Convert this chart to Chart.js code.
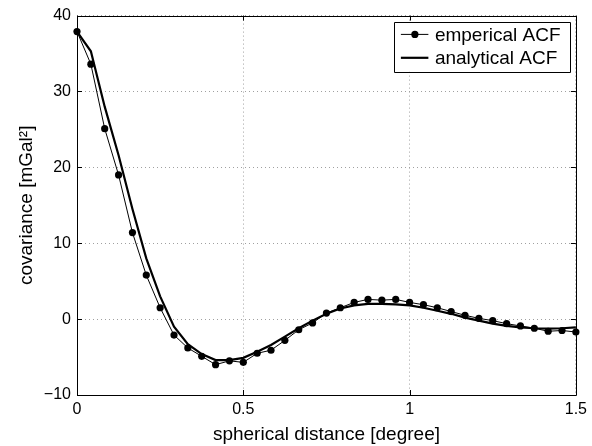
<!DOCTYPE html>
<html><head><meta charset="utf-8">
<script src="https://cdn.jsdelivr.net/npm/chart.js@4/dist/chart.umd.min.js"></script>
<style>html,body{margin:0;padding:0;background:#fff;} #wrap{width:592px;height:446px;}</style>
</head><body><div id="wrap"><canvas id="c" width="592" height="446"></canvas></div>
<script>
// spherical distance [degree]
const distances = [0, 0.0417, 0.0833, 0.125, 0.1667, 0.2083, 0.25, 0.2917, 0.3333, 0.375,
  0.4167, 0.4583, 0.5, 0.5417, 0.5833, 0.625, 0.6667, 0.7083, 0.75, 0.7917,
  0.8333, 0.875, 0.9167, 0.9583, 1, 1.0417, 1.0833, 1.125, 1.1667, 1.2083,
  1.25, 1.2917, 1.3333, 1.375, 1.4167, 1.4583, 1.5];
// emperical ACF [mGal^2]
const empirical = [37.9, 33.6, 25.1, 19.0, 11.4, 5.8, 1.5, -2.1, -3.8, -4.9,
  -6.0, -5.5, -5.7, -4.5, -4.1, -2.8, -1.4, -0.5, 0.8, 1.5,
  2.2, 2.6, 2.5, 2.6, 2.2, 1.9, 1.5, 1.0, 0.5, 0.1,
  -0.2, -0.6, -0.9, -1.2, -1.6, -1.5, -1.7];
// analytical ACF [mGal^2]
const analytical = [37.9, 35.3, 28.0, 21.6, 14.5, 8.0, 3.0, -1.0, -3.3, -4.6,
  -5.4, -5.4, -5.1, -4.3, -3.4, -2.3, -1.2, -0.2, 0.7, 1.4,
  1.8, 2.0, 2.0, 1.95, 1.8, 1.5, 1.1, 0.7, 0.2, -0.2,
  -0.6, -0.9, -1.1, -1.2, -1.25, -1.2, -1.1];
const xTicks = [0, 0.5, 1, 1.5];
const yTicks = [-10, 0, 10, 20, 30, 40];
const seriesLabels = ['emperical ACF', 'analytical ACF'];
const xTitle = 'spherical distance [degree]';
const yTitle = 'covariance [mGal\u00B2]';

const FONT = "'Liberation Sans', Arial, Helvetica, sans-serif";
const TICK_SIZE = 16;
const LABEL_SIZE = 19;

const framePlugin = {
  id: 'frame',
  afterDatasetsDraw(chart) {
    const ctx = chart.ctx;
    const a = chart.chartArea;
    const xs = chart.scales.x, ys = chart.scales.y;
    ctx.save();
    ctx.strokeStyle = '#000';
    ctx.lineWidth = 1;
    ctx.setLineDash([]);
    ctx.beginPath();
    ctx.rect(Math.round(a.left) + 0.5, Math.round(a.top) + 0.5,
      Math.round(a.right) - Math.round(a.left), Math.round(a.bottom) - Math.round(a.top));
    ctx.stroke();
    const tl = 5;
    ctx.beginPath();
    xs.ticks.forEach(t => {
      const px = Math.round(xs.getPixelForValue(t.value)) + 0.5;
      ctx.moveTo(px, a.bottom); ctx.lineTo(px, a.bottom - tl);
      ctx.moveTo(px, a.top); ctx.lineTo(px, a.top + tl);
    });
    ys.ticks.forEach(t => {
      const py = Math.round(ys.getPixelForValue(t.value)) + 0.5;
      ctx.moveTo(a.left, py); ctx.lineTo(a.left + tl, py);
      ctx.moveTo(a.right, py); ctx.lineTo(a.right - tl, py);
    });
    ctx.stroke();
    // legend box
    const bx = a.right - 181.5, by = a.top + 6, bw = 176, bh = 50;
    ctx.fillStyle = '#fff';
    ctx.fillRect(bx, by, bw, bh);
    ctx.beginPath();
    ctx.rect(Math.round(bx) + 0.5, Math.round(by) + 0.5, bw, bh);
    ctx.stroke();
    const ds = chart.data.datasets;
    const rows = [by + 12.8, by + 36.2];
    ds.forEach((d, i) => {
      const y = rows[i];
      ctx.strokeStyle = d.borderColor;
      ctx.lineWidth = d.borderWidth;
      ctx.beginPath();
      ctx.moveTo(bx + 6.5, y); ctx.lineTo(bx + 34, y);
      ctx.stroke();
      if (d.pointRadius > 0) {
        ctx.fillStyle = d.pointBackgroundColor;
        ctx.beginPath();
        ctx.arc(bx + 20.5, y, d.pointRadius, 0, Math.PI * 2);
        ctx.fill();
      }
      ctx.fillStyle = '#000';
      ctx.font = LABEL_SIZE + 'px ' + FONT;
      ctx.textBaseline = 'middle';
      ctx.textAlign = 'left';
      ctx.fillText(d.label, bx + 40.5, y + 1);
    });
    ctx.restore();
  }
};

const gridStyle = {
  color: '#a0a0a0',
  lineWidth: 1,
  drawTicks: false
};

new Chart(document.getElementById('c'), {
  type: 'line',
  data: {
    datasets: [
      {
        label: seriesLabels[0],
        data: distances.map((x, i) => ({x: x, y: empirical[i]})),
        borderColor: '#000', borderWidth: 1,
        pointRadius: 3.6, pointBackgroundColor: '#000', pointBorderWidth: 0,
        pointHoverRadius: 3.6,
        tension: 0, clip: false, order: 1
      },
      {
        label: seriesLabels[1],
        data: distances.map((x, i) => ({x: x, y: analytical[i]})),
        borderColor: '#000', borderWidth: 2.2,
        pointRadius: 0, pointBackgroundColor: '#000',
        tension: 0, clip: false, order: 2
      }
    ]
  },
  options: {
    responsive: false,
    devicePixelRatio: 1,
    animation: false,
    events: [],
    layout: { padding: { top: 15, right: 16, left: 0, bottom: 0 } },
    plugins: { legend: { display: false }, tooltip: { enabled: false } },
    scales: {
      x: {
        type: 'linear', min: 0, max: 1.5,
        afterBuildTicks: s => { s.ticks = xTicks.map(v => ({value: v})); },
        afterFit: s => { s.height = 51; },
        border: { display: false, dash: [1, 3] },
        grid: Object.assign({}, gridStyle),
        ticks: {
          color: '#000', padding: 5, maxRotation: 0, autoSkip: false,
          font: { family: FONT, size: TICK_SIZE },
          callback: v => String(v)
        },
        title: {
          display: true, text: xTitle, color: '#000',
          font: { family: FONT, size: LABEL_SIZE }, padding: { top: 10, bottom: 0 }
        }
      },
      y: {
        type: 'linear', min: -10, max: 40,
        afterBuildTicks: s => { s.ticks = yTicks.map(v => ({value: v})); },
        afterFit: s => { s.width = 77; },
        border: { display: false, dash: [1, 3] },
        grid: Object.assign({}, gridStyle),
        ticks: {
          color: '#000', padding: 6, autoSkip: false,
          font: { family: FONT, size: TICK_SIZE },
          callback: v => String(v).replace('-', '\u2212')
        },
        title: {
          display: true, text: yTitle, color: '#000',
          font: { family: FONT, size: LABEL_SIZE }, padding: { top: 15, bottom: 0 }
        }
      }
    }
  },
  plugins: [framePlugin]
});
</script>
</body></html>
